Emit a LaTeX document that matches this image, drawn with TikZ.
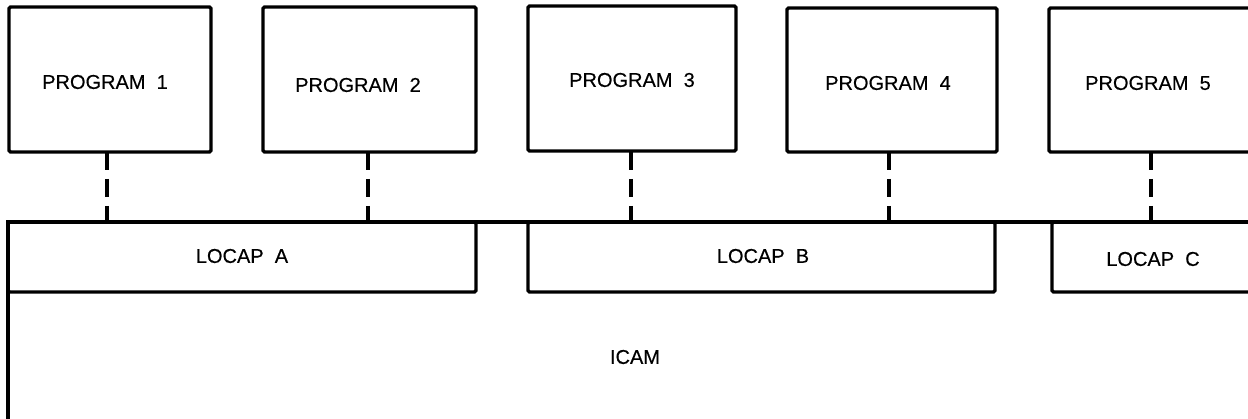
\documentclass[tikz,border=0pt]{standalone}
\usepackage{fontspec}
\setmainfont{Liberation Sans}
\newfontfamily\lblfont{Liberation Sans}[FakeBold=0.4]
\begin{document}
\begin{tikzpicture}[x=1pt,y=-1pt,
  box/.style={draw, line width=3.4pt, rounded corners=1.5pt, inner sep=0pt},
  lbl/.style={font=\lblfont\fontsize{20}{20}\selectfont, inner sep=0pt},
  link/.style={line width=3.6pt, dash pattern=on 18pt off 9pt}]
\useasboundingbox (0,0) rectangle (1248,419);
\clip (0,0) rectangle (1248,419);
% ICAM (open to the right and bottom)
\coordinate (icamTR) at (1260,222);
\coordinate (icamTL) at (8,222);
\coordinate (icamBL) at (8,430);
\draw[line width=3.2pt] (icamTR) -- (icamTL) -- (icamBL);
\node[lbl] (icam) at (635,357) {ICAM};
% program boxes
\node[box, minimum width=202pt, minimum height=145pt] (P1) at (110,79.5) {};
\node[box, minimum width=213pt, minimum height=145pt] (P2) at (369.5,79.5) {};
\node[box, minimum width=208pt, minimum height=145pt] (P3) at (632,78.5) {};
\node[box, minimum width=210pt, minimum height=144pt] (P4) at (892,80) {};
\node[box, minimum width=204pt, minimum height=144pt] (P5) at (1151,80) {};
\node[lbl] (t1) at (105,82) {PROGRAM~~1};
\node[lbl] (t2) at (358,85) {PROGRAM~~2};
\node[lbl] (t3) at (632,80) {PROGRAM~~3};
\node[lbl] (t4) at (888,83) {PROGRAM~~4};
\node[lbl] (t5) at (1148,83) {PROGRAM~~5};
% LOCAP boxes
\node[box, minimum width=468pt, minimum height=70pt] (LA) at (242,257) {};
\node[box, minimum width=467pt, minimum height=70pt] (LB) at (761.5,257) {};
\node[box, minimum width=208pt, minimum height=70pt] (LC) at (1156,257) {};
\node[lbl] (tA) at (242,256) {LOCAP~~A};
\node[lbl] (tB) at (763,256) {LOCAP~~B};
\node[lbl] (tC) at (1153,259) {LOCAP~~C};
% dashed links
\coordinate (d1) at (107,152);
\coordinate (d2) at (368,152);
\coordinate (d3) at (631,152);
\coordinate (d4) at (889,152);
\coordinate (d5) at (1151,152);
\draw[link] (d1) -- (d1 |- LA.north);
\draw[link] (d2) -- (d2 |- LA.north);
\draw[link] (d3) -- (d3 |- LB.north);
\draw[link] (d4) -- (d4 |- LB.north);
\draw[link] (d5) -- (d5 |- LC.north);
\end{tikzpicture}
\end{document}
